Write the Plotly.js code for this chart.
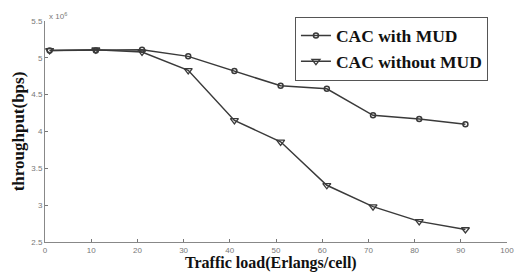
<!DOCTYPE html>
<html><head><meta charset="utf-8">
<script src="https://cdn.plot.ly/plotly-3.0.1.min.js"></script>
<style>html,body{margin:0;padding:0;background:#fff}#c{width:515px;height:273px}</style>
</head><body><div id="c"></div>
<script>
const traffic = [1, 11, 21, 31, 41, 51, 61, 71, 81, 91];
const withMUD = [5.10, 5.10, 5.11, 5.02, 4.82, 4.62, 4.58, 4.22, 4.17, 4.10];
const withoutMUD = [5.10, 5.11, 5.08, 4.83, 4.15, 3.86, 3.27, 2.98, 2.78, 2.67];
const xTicks = [0, 10, 20, 30, 40, 50, 60, 70, 80, 90, 100];
const yTicks = [2.5, 3, 3.5, 4, 4.5, 5, 5.5];
const yTickText = ['2.5', '3', '3.5', '4', '4.5', '5', '5.5'];
const xTitle = 'Traffic load(Erlangs/cell)';
const yTitle = 'throughput(bps)';

const lineCol = '#3a3a3a';
const serif = 'Liberation Serif, Times New Roman, serif';
const traces = [
  {x: traffic, y: withMUD, name: '<b>CAC with MUD</b>', mode: 'lines+markers',
   line: {color: lineCol, width: 1.5},
   marker: {symbol: 'circle-open', size: 5, color: lineCol, line: {width: 1.5, color: lineCol}}},
  {x: traffic, y: withoutMUD, name: '<b>CAC without MUD</b>', mode: 'lines+markers',
   line: {color: lineCol, width: 1.5},
   marker: {symbol: 'triangle-down-open', size: 7, color: lineCol, line: {width: 1.3, color: lineCol}}}
];
const layout = {
  width: 515, height: 273,
  margin: {l: 45, r: 8, t: 21, b: 31},
  paper_bgcolor: '#fff', plot_bgcolor: '#fff',
  showlegend: true,
  legend: {x: 0.541, y: 1.02, xanchor: 'left', yanchor: 'top',
    bgcolor: '#fff', bordercolor: '#555', borderwidth: 1,
    font: {family: serif, size: 17.5, color: '#111'},
    tracegroupgap: 0, itemwidth: 30},
  xaxis: {range: [0, 100], tickvals: xTicks, ticks: 'inside', ticklen: 3, tickcolor: '#777',
    showline: true, linecolor: '#888', linewidth: 1, showgrid: false, zeroline: false,
    tickfont: {family: 'Arial, sans-serif', size: 8, color: '#777'}},
  yaxis: {range: [2.5, 5.5], tickvals: yTicks, ticktext: yTickText, ticks: 'inside', ticklen: 3, tickcolor: '#777',
    showline: true, linecolor: '#888', linewidth: 1, showgrid: false, zeroline: false,
    tickfont: {family: 'Arial, sans-serif', size: 8, color: '#777'},
    title: {text: '<b>' + yTitle + '</b>', standoff: 2,
      font: {family: serif, size: 17, color: '#111'}}},
  annotations: [
    {xref: 'paper', yref: 'paper', x: 0.0, y: 1.0, xanchor: 'left', yanchor: 'bottom',
     text: 'x 10<sup>6</sup>', showarrow: false, xshift: 2, yshift: -2,
     font: {family: 'Arial, sans-serif', size: 8, color: '#777'}},
    {xref: 'paper', yref: 'paper', x: 0.49, y: -0.14, xanchor: 'center', yanchor: 'bottom',
     text: '<b>' + xTitle + '</b>', showarrow: false, borderpad: 0,
     font: {family: serif, size: 16, color: '#111'}}
  ]
};
Plotly.newPlot('c', traces, layout, {displayModeBar: false, staticPlot: true});
</script></body></html>
